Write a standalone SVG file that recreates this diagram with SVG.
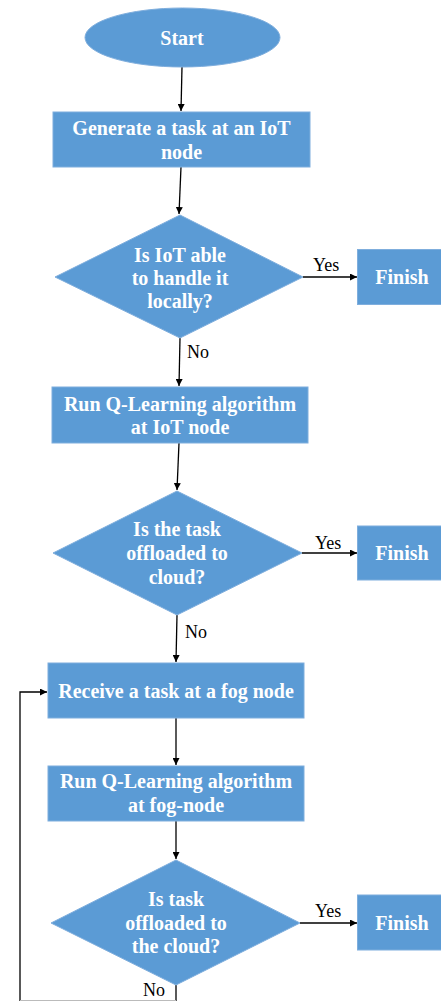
<svg xmlns="http://www.w3.org/2000/svg" width="441" height="1001" viewBox="0 0 441 1001">
<defs>
<style>
.n{fill:#5B9BD5;stroke:#7FAEDD;stroke-width:1}
.t{font-family:'Liberation Serif','Times New Roman',serif;font-weight:bold;font-size:20px;fill:#fff;text-anchor:middle}
.l{font-family:'Liberation Serif','Times New Roman',serif;font-size:18px;fill:#000}
.c{fill:none;stroke:#000;stroke-width:1.3}
</style>
<marker id="a" viewBox="0 0 10 10" refX="10" refY="5" markerWidth="7" markerHeight="7" markerUnits="userSpaceOnUse" orient="auto"><path d="M0,0L10,5L0,10z" fill="#000"/></marker>
</defs>
<rect width="441" height="1001" fill="#fff"/>
<g id="connectors">
<path class="c" d="M182,67L181,111" marker-end="url(#a)"/>
<path class="c" d="M181,167L179,214" marker-end="url(#a)"/>
<path class="c" d="M303,277L357,277" marker-end="url(#a)"/>
<path class="c" d="M180,338L179,386" marker-end="url(#a)"/>
<path class="c" d="M179,443L177,490" marker-end="url(#a)"/>
<path class="c" d="M302,553L357,553" marker-end="url(#a)"/>
<path class="c" d="M177,615L176,662" marker-end="url(#a)"/>
<path class="c" d="M176,718L176,765" marker-end="url(#a)"/>
<path class="c" d="M176,821L176,859" marker-end="url(#a)"/>
<path class="c" d="M300,923L357,923" marker-end="url(#a)"/>
<path class="c" d="M176,985L176,1001"/>
<path class="c" d="M20,1001L20,692L47,692" marker-end="url(#a)"/>
<path d="M20,1000.5L176,1000.5" stroke="#bbb" stroke-width="1" fill="none"/>
<text class="l" x="313" y="271">Yes</text>
<text class="l" x="187" y="358">No</text>
<text class="l" x="315" y="549">Yes</text>
<text class="l" x="185" y="638">No</text>
<text class="l" x="315" y="917">Yes</text>
<text class="l" x="143" y="996">No</text>
</g>
<g id="start"><ellipse class="n" cx="182.5" cy="37.5" rx="97.5" ry="29.5"/><text class="t" x="182" y="45">Start</text></g>
<g id="generate"><rect class="n" x="53" y="112" width="257" height="55"/><text class="t" x="181.5" y="135">Generate a task at an IoT</text><text class="t" x="181.5" y="159">node</text></g>
<g id="d1"><polygon class="n" points="180,215 303,277 180,338 55,277"/><text class="t" x="180" y="262">Is IoT able</text><text class="t" x="180" y="285">to handle it</text><text class="t" x="180" y="308">locally?</text></g>
<g id="finish1"><rect class="n" x="357.5" y="249.5" width="84" height="55"/><text class="t" x="402" y="284">Finish</text></g>
<g id="runiot"><rect class="n" x="52" y="387" width="256" height="56"/><text class="t" x="180" y="411">Run Q-Learning algorithm</text><text class="t" x="180" y="434">at IoT node</text></g>
<g id="d2"><polygon class="n" points="177,491 302,553 177,615 53,553"/><text class="t" x="177" y="536">Is the task</text><text class="t" x="177" y="560">offloaded to</text><text class="t" x="177" y="584">cloud?</text></g>
<g id="finish2"><rect class="n" x="357.5" y="526" width="84" height="54"/><text class="t" x="402" y="560">Finish</text></g>
<g id="receive"><rect class="n" x="48" y="663" width="256" height="55"/><text class="t" x="176" y="698">Receive a task at a fog node</text></g>
<g id="runfog"><rect class="n" x="48" y="766" width="256" height="55"/><text class="t" x="176" y="788">Run Q-Learning algorithm</text><text class="t" x="176" y="812">at fog-node</text></g>
<g id="d3"><polygon class="n" points="176,860 300,923 176,985 51,923"/><text class="t" x="176" y="906">Is task</text><text class="t" x="176" y="930">offloaded to</text><text class="t" x="176" y="953">the cloud?</text></g>
<g id="finish3"><rect class="n" x="357.5" y="895" width="84" height="55"/><text class="t" x="402" y="930">Finish</text></g>
</svg>
